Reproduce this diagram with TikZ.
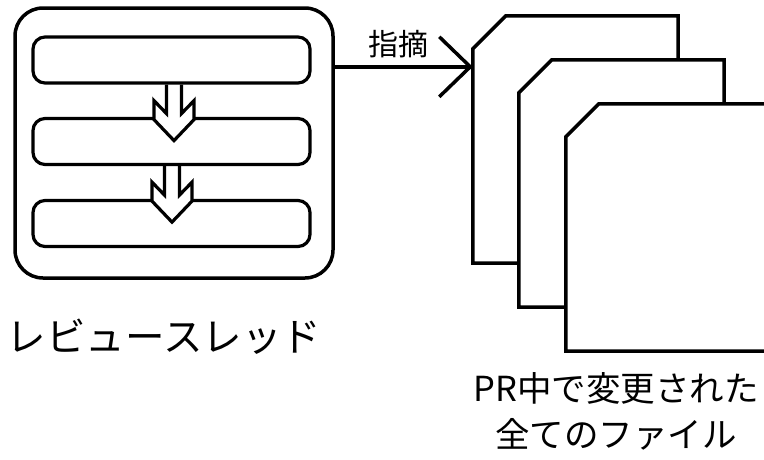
\documentclass[tikz,border=0pt]{standalone}
\usepackage{fontspec}
\newfontfamily\cjk{Noto Sans CJK JP}
\usetikzlibrary{arrows.meta,calc}
\begin{document}
\begin{tikzpicture}[x=1pt,y=-1pt,
  frame/.style={draw, line width=3.5pt, rounded corners=28pt, minimum width=318pt, minimum height=270pt, inner sep=0pt},
  bar/.style={draw, line width=3.2pt, rounded corners=12pt, minimum width=277pt, minimum height=46pt, inner sep=0pt},
  page/.style={minimum width=205pt, minimum height=247pt, inner sep=0pt},
  pageline/.style={draw, fill=white, line width=3.5pt, line join=miter},
  conn/.style={line width=3.5pt, -{Straight Barb[length=31pt, width=60pt]}},
  lbl/.style={font=\cjk\fontsize{39.5}{46}\selectfont, inner sep=0pt},
  plbl/.style={font=\cjk\fontsize{34.5}{46}\selectfont, inner sep=0pt, align=center},
  elbl/.style={font=\cjk\fontsize{30}{36}\selectfont, inner sep=0pt},
  darrow/.pic={
    \path[fill=white] (-7.5,2) -- (-7.5,29) -- (-20,16) -- (-20,35) -- (0,56) -- (20,35) -- (20,16) -- (7.5,29) -- (7.5,2) -- cycle;
    \draw[line width=3.2pt, line join=miter] (-7.5,0) -- (-7.5,29) -- (-20,16) -- (-20,35) -- (0,56) -- (20,35) -- (20,16) -- (7.5,29) -- (7.5,0);
  }
]
\useasboundingbox (0,0) rectangle (764,459);

% review thread
\node[frame] (thread) at (174,143) {};
\node[bar] (bar1) at (171.5,60) {};
\node[bar] (bar2) at (171.5,141.5) {};
\node[bar] (bar3) at (171.5,223.5) {};
\pic at ($(bar1.south)+(2.5,0)$) {darrow};
\pic at ($(bar2.south)+(0.5,0)$) {darrow};
\node[lbl] (tlabel) at (164,337) {レビュースレッド};

% pages
\node[page] (p1) at (575.5,139.5) {};
\node[page] (p2) at (621.5,183.5) {};
\node[page] (p3) at (668.5,227.5) {};
\foreach \p in {p1,p2,p3}{
  \filldraw[pageline] ($(\p.north west)+(0,33)$) -- ($(\p.north west)+(33,0)$) -- (\p.north east) -- (\p.south east) -- (\p.south west) -- cycle;
}
\node[plbl] (plabel) at (616,411) {PR中で変更された\\全てのファイル};

% connector
\coordinate (tip) at ($(p1.north west)+(0,51)$);
\draw[conn] (thread.east |- tip) -- (tip);
\node[elbl] (clabel) at (398,44) {指摘};
\end{tikzpicture}
\end{document}
